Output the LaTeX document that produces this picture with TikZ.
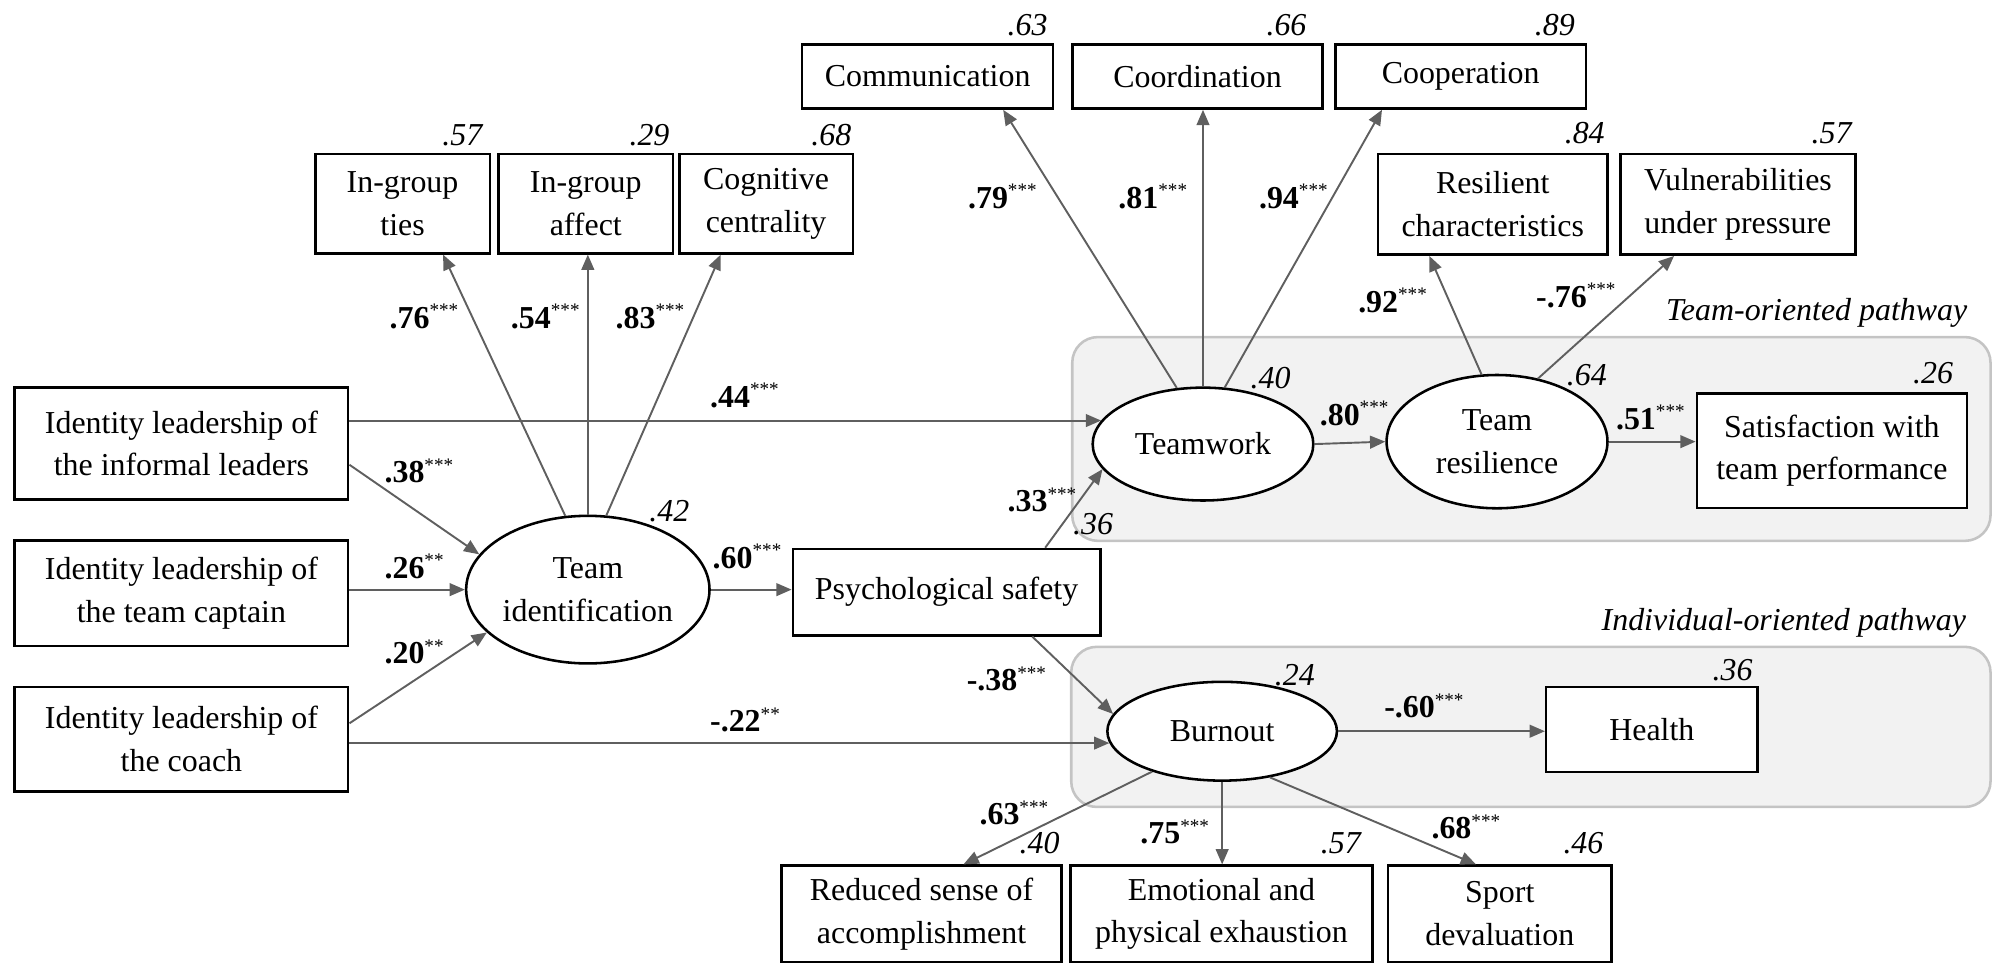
\documentclass[tikz,border=0pt]{standalone}
\usepackage{fontspec}
\setmainfont{Liberation Serif}
\usetikzlibrary{arrows.meta,calc,shapes.geometric}
\definecolor{arrowgray}{HTML}{5F5F5F}
\definecolor{groupfill}{HTML}{F2F2F2}
\definecolor{groupline}{HTML}{C4C4C4}
\newcommand{\coef}[2]{\textbf{#1}\raisebox{9pt}{\fontsize{15}{15}\selectfont #2}}
\begin{document}
\begin{tikzpicture}[x=1pt,y=-1pt,font=\fontsize{25}{33.5}\selectfont,
  box/.style={draw=black,line width=2pt,fill=white,align=center,inner sep=0pt},
  ell/.style={ellipse,draw=black,line width=2pt,fill=white,align=center,inner sep=-3pt},
  arr/.style={draw=arrowgray,line width=1.5pt,-{Triangle[length=12pt,width=10pt]}},
  grp/.style={draw=groupline,fill=groupfill,line width=2pt,rounded corners=20pt},
  rsq/.style={anchor=base east,inner sep=0pt,font=\fontsize{25}{30}\selectfont\itshape},
  cf/.style={anchor=base west,inner sep=0pt},
  path/.style={anchor=base east,inner sep=0pt,font=\fontsize{25}{30}\selectfont\itshape}]
\useasboundingbox (0,0) rectangle (1568,755);
% group areas
\draw[grp] (839.8,264) rectangle (1559,423.6);
\draw[grp] (839,506.6) rectangle (1559,632);
\node[path] (ptteam) at (1541,251) {Team-oriented pathway};
\node[path] (ptind) at (1540,494) {Individual-oriented pathway};
% boxes
\node[box,minimum width=196.4pt,minimum height=50.3pt] (comm) at (726.5,59.85) {Communication};
\node[box,minimum width=196.2pt,minimum height=50.3pt] (coord) at (937.9,59.85) {Coordination};
\node[box,minimum width=196pt,minimum height=50.3pt] (coop) at (1144,59.85) {Cooperation};
\node[box,minimum width=136.6pt,minimum height=77.8pt] (ig1) at (315.3,159.5) {In-group\\ties};
\node[box,minimum width=136.4pt,minimum height=77.8pt] (ig2) at (458.8,159.5) {In-group\\affect};
\node[box,minimum width=136pt,minimum height=77.8pt] (cog) at (600,159.5) {Cognitive\\centrality};
\node[box,minimum width=179.7pt,minimum height=79pt] (resil) at (1169.15,160) {Resilient\\characteristics};
\node[box,minimum width=184.3pt,minimum height=79pt] (vuln) at (1361.15,160) {Vulnerabilities\\under pressure};
\node[box,minimum width=261.2pt,minimum height=87.4pt] (il1) at (142.1,347.3) {Identity leadership of\\the informal leaders};
\node[box,minimum width=261.2pt,minimum height=82.5pt] (il2) at (142.1,464.75) {Identity leadership of\\the team captain};
\node[box,minimum width=261.2pt,minimum height=82pt] (il3) at (142.1,579) {Identity leadership of\\the coach};
\node[box,minimum width=240.8pt,minimum height=67.6pt] (psych) at (741.4,463.8) {Psychological safety};
\node[box,minimum width=211.5pt,minimum height=90pt] (sat) at (1434.75,353) {Satisfaction with\\team performance};
\node[box,minimum width=165.5pt,minimum height=66.5pt] (health) at (1293.75,571.25) {Health};
\node[box,minimum width=219.5pt,minimum height=75.5pt] (red) at (721.75,715.75) {Reduced sense of\\accomplishment};
\node[box,minimum width=236.7pt,minimum height=75.5pt] (emo) at (956.65,715.75) {Emotional and\\physical exhaustion};
\node[box,minimum width=175.3pt,minimum height=75.5pt] (sport) at (1174.65,715.75) {Sport\\devaluation};
% latent variables
\node[ell,minimum width=190.6pt,minimum height=115.6pt] (ti) at (460.4,461.8) {Team\\identification};
\node[ell,minimum width=172.8pt,minimum height=88.4pt] (tw) at (942.2,347.8) {Teamwork};
\node[ell,minimum width=173pt,minimum height=104.4pt] (tr) at (1172.5,345.9) {Team\\resilience};
\node[ell,minimum width=179.8pt,minimum height=77.4pt] (burn) at (957.2,572.7) {Burnout};
% explained variances
\node[rsq] (r1) at (820.7,27.5) {.63};
\node[rsq] (r2) at (1023.4,27.5) {.66};
\node[rsq] (r3) at (1233.6,27.5) {.89};
\node[rsq] (r4) at (378,114) {.57};
\node[rsq] (r5) at (524.5,114) {.29};
\node[rsq] (r6) at (667,114) {.68};
\node[rsq] (r7) at (1257,112.7) {.84};
\node[rsq] (r8) at (1450.3,112.7) {.57};
\node[rsq] (r9) at (1010.9,304.3) {.40};
\node[rsq] (r10) at (1258.7,302) {.64};
\node[rsq] (r11) at (1529.8,300.7) {.26};
\node[rsq] (r12) at (540,408.3) {.42};
\node[rsq] (r13) at (872,418.3) {.36};
\node[rsq] (r14) at (1030,537) {.24};
\node[rsq] (r15) at (1372.8,533) {.36};
\node[rsq] (r16) at (830,668.8) {.40};
\node[rsq] (r17) at (1066,668.3) {.57};
\node[rsq] (r18) at (1256,668.3) {.46};
% paths
\draw[arr] (ti.107.8) -- ($(ig1.south)+(31.7,0)$);
\draw[arr] (ti.north) -- (ti.north |- ig2.south);
\draw[arr] (ti.76.2) -- ($(cog.south)+(-35.5,0)$);
\draw[arr] (tw.115.8) -- ($(comm.south)+(59.2,0)$);
\draw[arr] (tw.north) -- (tw.north |- coord.south);
\draw[arr] (tw.69.7) -- ($(coop.south)+(-61.6,0)$);
\draw[arr] (tr.103.9) -- ($(resil.south)+(-49.65,0)$);
\draw[arr] (tr.57.2) -- ($(vuln.south)+(-50,0)$);
\draw[arr] (il1.east |- tw.167.3) -- (tw.167.3);
\draw[arr] ($(il1.east)+(0,16.7)$) -- (ti.162.2);
\draw[arr] (il2.east |- ti.west) -- (ti.west);
\draw[arr] ($(il3.east)+(0,-12.5)$) -- (ti.203.1);
\draw[arr] (il3.east |- burn.186.1) -- (burn.186.1);
\draw[arr] (ti.east) -- (ti.east -| psych.west);
\draw[arr] ($(psych.north)+(77.2,0)$) -- (tw.194.5);
\draw[arr] ($(psych.south)+(67.1,0)$) -- (burn.171);
\draw[arr] (tw.east) -- (tr.west);
\draw[arr] (tr.east) -- (tr.east -| sat.west);
\draw[arr] (burn.east) -- (burn.east -| health.west);
\draw[arr] (burn.210.8) -- ($(red.north)+(32.85,0)$);
\draw[arr] (burn.south) -- (burn.south |- emo.north);
\draw[arr] (burn.316.9) -- ($(sport.north)+(-18.65,0)$);
% coefficients
\node[cf] (c1) at (305,257) {\coef{.76}{***}};
\node[cf] (c2) at (400,257) {\coef{.54}{***}};
\node[cf] (c3) at (482,257) {\coef{.83}{***}};
\node[cf] (c4) at (758,163) {\coef{.79}{***}};
\node[cf] (c5) at (875.8,163) {\coef{.81}{***}};
\node[cf] (c6) at (985.9,163) {\coef{.94}{***}};
\node[cf] (c7) at (1063.6,244.5) {\coef{.92}{***}};
\node[cf] (c8) at (1203,240.7) {\coef{-.76}{***}};
\node[cf] (c9) at (556,319) {\coef{.44}{***}};
\node[cf] (c10) at (301,378) {\coef{.38}{***}};
\node[cf] (c11) at (301,453) {\coef{.26}{**}};
\node[cf] (c12) at (301,520) {\coef{.20}{**}};
\node[cf] (c13) at (558,445) {\coef{.60}{***}};
\node[cf] (c14) at (789,401) {\coef{.33}{***}};
\node[cf] (c15) at (757,541) {\coef{-.38}{***}};
\node[cf] (c16) at (556,573) {\coef{-.22}{**}};
\node[cf] (c17) at (1033.5,333) {\coef{.80}{***}};
\node[cf] (c18) at (1265.5,336) {\coef{.51}{***}};
\node[cf] (c19) at (1084,562) {\coef{-.60}{***}};
\node[cf] (c20) at (767,646) {\coef{.63}{***}};
\node[cf] (c21) at (893,661) {\coef{.75}{***}};
\node[cf] (c22) at (1121,657) {\coef{.68}{***}};
\end{tikzpicture}
\end{document}
